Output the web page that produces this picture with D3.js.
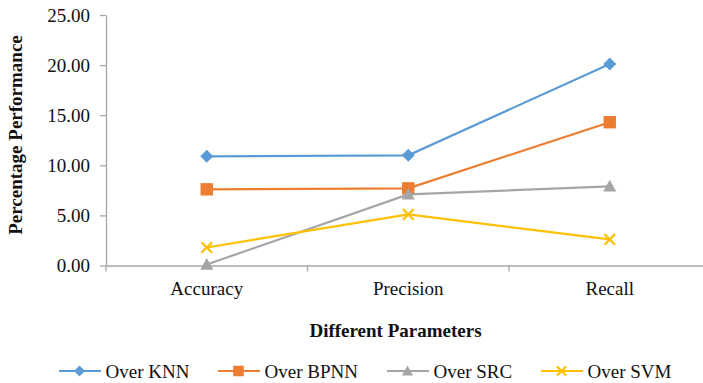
<!DOCTYPE html>
<html><head><meta charset="utf-8">
<script src="https://cdn.jsdelivr.net/npm/d3@7"></script>
<style>body{margin:0;background:#fff}svg{display:block}</style>
</head><body><svg id="c" width="703" height="383"></svg>
<script>
const categories = ["Accuracy", "Precision", "Recall"];
const seriesNames = ["Over KNN", "Over BPNN", "Over SRC", "Over SVM"];
const overKNN  = [10.9, 11.0, 20.1];
const overBPNN = [7.6, 7.7, 14.3];
const overSRC  = [0.1, 7.1, 7.9];
const overSVM  = [1.8, 5.1, 2.6];
const yTicks = [0, 5, 10, 15, 20, 25];
const colors = ["#5B9BD5", "#ED7D31", "#A5A5A5", "#FFC000"];
const markers = ["diamond", "square", "triangle", "x"];
const seriesValues = [overKNN, overBPNN, overSRC, overSVM];

const FONT = '"Liberation Serif"';
const svg = d3.select("#c");
const L = 106, R = 710.5, T = 15, B = 265.5;
const x = d3.scaleBand().domain(categories).range([L, R]);
const y = d3.scaleLinear().domain([0, 25]).range([B, T]);
const axisColor = "#A6A6A6";

// y axis
const ya = svg.append("g").attr("transform", `translate(${L},0)`)
  .call(d3.axisLeft(y).tickValues(yTicks).tickFormat(d3.format(".2f")).tickSize(6).tickPadding(10).tickSizeOuter(0));
ya.attr("font-family", null).attr("font-size", null);
ya.select(".domain").attr("stroke", axisColor).attr("stroke-width", 1.3);
ya.selectAll(".tick line").attr("stroke", axisColor).attr("stroke-width", 1.3);
ya.selectAll(".tick text").style("font-family", FONT).style("font-size", "19px").attr("fill", "#111").attr("dy", "0.34em");

// x axis
const xa = svg.append("g").attr("transform", `translate(0,${B})`)
  .call(d3.axisBottom(x).tickSize(0).tickPadding(0).tickSizeOuter(0));
xa.attr("font-family", null).attr("font-size", null);
xa.select(".domain").attr("stroke", axisColor).attr("stroke-width", 1.3);
xa.selectAll(".tick text").style("font-family", FONT).style("font-size", "19px").attr("fill", "#111").attr("dy", 0).attr("y", 29.5);
// category boundary ticks
const bounds = categories.map(c => x(c)).concat([x(categories[categories.length-1]) + x.bandwidth()]);
svg.append("g").selectAll("line").data(bounds).join("line")
  .attr("x1", d => d).attr("x2", d => d).attr("y1", B).attr("y2", B + 6)
  .attr("stroke", axisColor).attr("stroke-width", 1.3);

// axis titles
svg.append("text").attr("transform", `translate(21.5,135) rotate(-90)`).attr("text-anchor", "middle")
  .style("font-family", FONT).style("font-size", "19px").style("font-weight", "bold").attr("fill", "#111").text("Percentage Performance");
svg.append("text").attr("x", 395.5).attr("y", 336.5).attr("text-anchor", "middle")
  .style("font-family", FONT).style("font-size", "19px").style("font-weight", "bold").attr("fill", "#111").text("Different Parameters");

function drawMarker(g, type, cx, cy, color, s) {
  if (type === "diamond") {
    g.append("path").attr("d", `M${cx},${cy-s}L${cx+s},${cy}L${cx},${cy+s}L${cx-s},${cy}Z`).attr("fill", color);
  } else if (type === "square") {
    g.append("rect").attr("x", cx - s).attr("y", cy - s).attr("width", 2*s).attr("height", 2*s).attr("fill", color);
  } else if (type === "triangle") {
    g.append("path").attr("d", `M${cx},${cy-s}L${cx+s},${cy+s*0.8}L${cx-s},${cy+s*0.8}Z`).attr("fill", color);
  } else {
    g.append("path").attr("d", `M${cx-s},${cy-s}L${cx+s},${cy+s}M${cx-s},${cy+s}L${cx+s},${cy-s}`).attr("stroke", color).attr("stroke-width", 2.2).attr("fill", "none");
  }
}
const markerSize = {diamond: 6.5, square: 6.2, triangle: 6.5, x: 5.3};

const cx = c => x(c) + x.bandwidth()/2;
const line = d3.line().x((d, i) => cx(categories[i])).y(d => y(d));
seriesValues.forEach((vals, si) => {
  const g = svg.append("g");
  g.append("path").datum(vals).attr("d", line).attr("fill", "none").attr("stroke", colors[si]).attr("stroke-width", 2.2);
  vals.forEach((v, i) => drawMarker(g, markers[si], cx(categories[i]), y(v), colors[si], markerSize[markers[si]]));
});

// legend
const legendX = [59, 218, 387, 541];
seriesNames.forEach((n, i) => {
  const g = svg.append("g");
  const ly = 371;
  g.append("line").attr("x1", legendX[i]).attr("x2", legendX[i] + 42).attr("y1", ly).attr("y2", ly).attr("stroke", colors[i]).attr("stroke-width", 2.2);
  drawMarker(g, markers[i], legendX[i] + 20.5, ly, colors[i], markerSize[markers[i]] * 0.85);
  g.append("text").attr("x", legendX[i] + 46.5).attr("y", 377.5).style("font-family", FONT).style("font-size", "19px").attr("fill", "#111").text(n);
});
</script></body></html>
